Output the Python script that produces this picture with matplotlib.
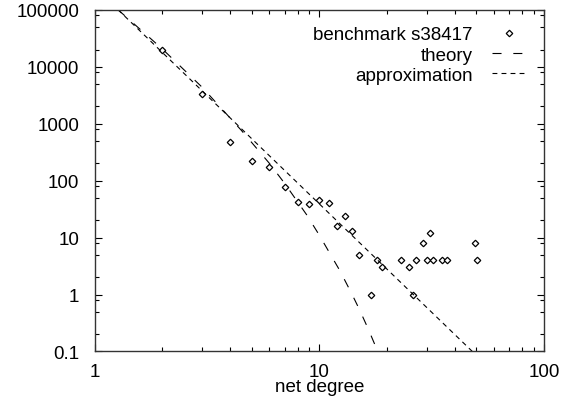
import matplotlib
matplotlib.use("Agg")
import matplotlib.pyplot as plt
from matplotlib.ticker import LogLocator, NullFormatter

plt.rcParams['font.family'] = ['Liberation Sans', 'DejaVu Sans']
plt.rcParams['lines.scale_dashes'] = False

# benchmark s38417 measurements (net degree, count)
bench_x = [2, 3, 4, 5, 6, 7, 8, 9, 10, 11, 12, 13, 14, 15, 17, 18, 19,
           23, 25, 26, 27, 29, 30, 31, 32, 35, 37, 49.5, 50.5]
bench_y = [20000, 3300, 470, 225, 172, 76, 42, 39, 45, 41, 16, 24, 13.3, 5, 1, 4, 3,
           4, 3, 1, 4, 8, 4, 12, 4, 4, 4, 8, 4]

# theory curve
theory_x = [1.27, 2, 3, 4.5, 6, 7, 8.79, 10, 12.36, 14, 15.07, 16.5, 18.2]
theory_y = [100000, 20500, 4400, 760, 200, 90, 25, 11, 2.6, 1.0, 0.55, 0.25, 0.1]

# approximation (straight line in log-log)
approx_x = [1.27, 48]
approx_y = [100000, 0.1]

fig = plt.figure(figsize=(5.69, 4.06), dpi=100)
ax = fig.add_axes([0.1664, 0.1318, 0.7896, 0.8418])

ax.plot(bench_x, bench_y, linestyle='none', marker='D', markersize=3.3,
        markerfacecolor='white', markeredgecolor='black', markeredgewidth=0.9,
        label='benchmark s38417')
ax.plot(theory_x, theory_y, color='black', lw=0.8, dashes=(6.5, 8.5), label='theory')
ax.plot(approx_x, approx_y, color='black', lw=0.8, dashes=(3.5, 3), label='approximation')

ax.set_xscale('log')
ax.set_yscale('log')
ax.set_xlim(1, 100)
ax.set_ylim(0.1, 100000)

ax.set_xticks([1, 10, 100])
ax.set_xticklabels(['1', '10', '100'])
ax.set_yticks([0.1, 1, 10, 100, 1000, 10000, 100000])
ax.set_yticklabels(['0.1', '1', '10', '100', '1000', '10000', '100000'])
ax.xaxis.set_minor_locator(LogLocator(base=10, subs=range(2, 10), numticks=20))
ax.yaxis.set_minor_locator(LogLocator(base=10, subs=[2, 5, 8], numticks=20))
ax.xaxis.set_minor_formatter(NullFormatter())
ax.yaxis.set_minor_formatter(NullFormatter())

ax.tick_params(which='both', direction='in', top=True, right=True, labelsize=13.5,
               width=0.8, colors='black')
ax.tick_params(which='major', length=5)
ax.tick_params(which='minor', length=3)
ax.tick_params(axis='y', pad=11)
ax.tick_params(axis='x', pad=8)
for s in ax.spines.values():
    s.set_linewidth(1.0)
    s.set_color('#333333')

ax.set_xlabel('net degree', fontsize=13.5, labelpad=-1)

ax.legend(loc='upper right', bbox_to_anchor=(0.99, 0.99), frameon=False,
          markerfirst=False, fontsize=13.5, handlelength=1.85, handletextpad=1.0,
          labelspacing=0.17, borderaxespad=0.3)

fig.savefig('out.png', dpi=100)
